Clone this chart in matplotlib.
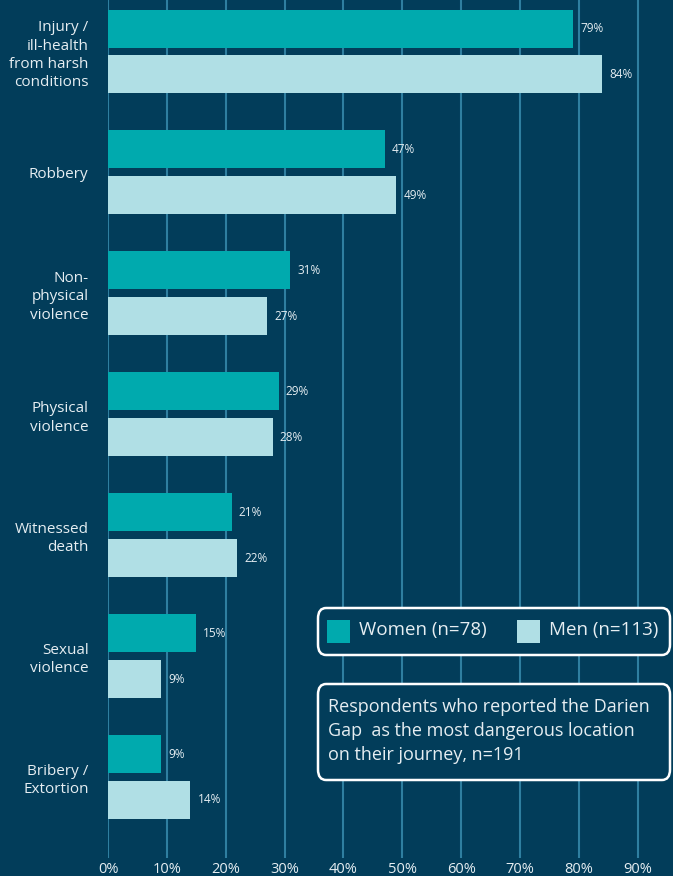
import matplotlib
matplotlib.use("Agg")
import matplotlib.pyplot as plt
from matplotlib.patches import FancyBboxPatch, Rectangle
import numpy as np

categories = ["Injury /\nill-health\nfrom harsh\nconditions", "Robbery", "Non-\nphysical\nviolence",
              "Physical\nviolence", "Witnessed\ndeath", "Sexual\nviolence", "Bribery /\nExtortion"]
women = [79, 47, 31, 29, 21, 15, 9]
men = [84, 49, 27, 28, 22, 9, 14]
xticks = [0, 10, 20, 30, 40, 50, 60, 70, 80, 90]
xtick_labels = [f"{v}%" for v in xticks]
series_labels = ["Women (n=78)", "Men (n=113)"]
note = "Respondents who reported the Darien\nGap  as the most dangerous location\non their journey, n=191"

BG = "#023d5a"
C_W = "#00aaae"
C_M = "#b0dfe5"
GRID = "#2f7fa0"
TXT = "#e6eef2"

plt.rcParams['font.family'] = ['Open Sans', 'DejaVu Sans']

W, H = 673, 876
fig = plt.figure(figsize=(W/100, H/100), dpi=100, facecolor=BG)
left = 108/W
ax = fig.add_axes([left, 18/H, 1-left, 858/H], facecolor=BG)

y = np.arange(len(categories))
bh = 0.314
off = 0.19
ax.barh(y - off, women, height=bh, color=C_W, zorder=3)
ax.barh(y + off, men, height=bh, color=C_M, zorder=3)
for yi, w, m in zip(y, women, men):
    ax.text(w + 1.2, yi - off, f"{w}%", va="center", ha="left", color=TXT, fontsize=8.5, zorder=4)
    ax.text(m + 1.2, yi + off, f"{m}%", va="center", ha="left", color=TXT, fontsize=8.5, zorder=4)

ax.set_xlim(0, 96.0)
ax.set_ylim(6.67, -0.426)
ax.set_xticks(xticks)
ax.set_xticklabels(xtick_labels, color=TXT, fontsize=10.5)
ax.set_yticks(y)
ax.set_yticklabels(categories, color=TXT, fontsize=11, linespacing=1.3)
ax.tick_params(axis="both", length=0)
ax.tick_params(axis="y", pad=14)
ax.tick_params(axis="x", pad=3)
for s in ax.spines.values():
    s.set_visible(False)
ax.grid(axis="x", color=GRID, linewidth=1.5, zorder=0)
ax.set_axisbelow(True)

def fx(px): return px / W
def fy(py): return 1 - py / H

lb = FancyBboxPatch((fx(318), fy(655)), fx(670) - fx(318), fy(608) - fy(655),
                    boxstyle="round,pad=0,rounding_size=0.012", transform=fig.transFigure,
                    facecolor=BG, edgecolor="white", linewidth=1.8, zorder=5)
fig.patches.append(lb)
fig.patches.append(Rectangle((fx(327), fy(643)), fx(350) - fx(327), fy(620) - fy(643),
                             transform=fig.transFigure, facecolor=C_W, edgecolor="none", zorder=6))
fig.text(fx(359), fy(630), series_labels[0], color=TXT, fontsize=13.5, va="center", ha="left", zorder=7)
fig.patches.append(Rectangle((fx(517), fy(643)), fx(540) - fx(517), fy(620) - fy(643),
                             transform=fig.transFigure, facecolor=C_M, edgecolor="none", zorder=6))
fig.text(fx(549), fy(630), series_labels[1], color=TXT, fontsize=13.5, va="center", ha="left", zorder=7)

nb = FancyBboxPatch((fx(318), fy(780)), fx(670) - fx(318), fy(684) - fy(780),
                    boxstyle="round,pad=0,rounding_size=0.012", transform=fig.transFigure,
                    facecolor=BG, edgecolor="white", linewidth=1.8, zorder=5)
fig.patches.append(nb)
fig.text(fx(328), fy(731), note, color=TXT, fontsize=13, va="center", ha="left",
         linespacing=1.45, zorder=7)

fig.savefig("out.png", dpi=100, facecolor=BG)
